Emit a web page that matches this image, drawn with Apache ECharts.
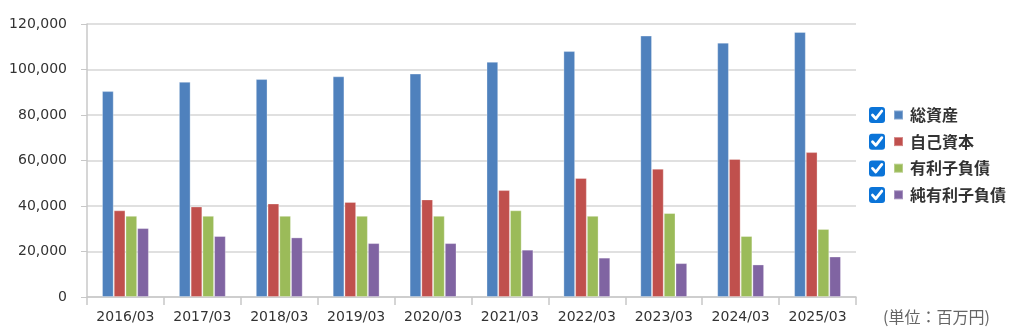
<!DOCTYPE html>
<html><head><meta charset="utf-8">
<script src="https://cdn.jsdelivr.net/npm/echarts@6/dist/echarts.min.js"></script>
<style>html,body{margin:0;padding:0;background:#fff}#c{width:1024px;height:330px}</style>
</head><body><div id="c"></div>
<script>
const categories = ['2016/03','2017/03','2018/03','2019/03','2020/03','2021/03','2022/03','2023/03','2024/03','2025/03'];
const seriesNames = ['総資産','自己資本','有利子負債','純有利子負債'];
const totalAssets = [90500, 94600, 95800, 97000, 98200, 103400, 108100, 114900, 111800, 116500];
const equity = [38100, 39800, 41100, 41800, 42900, 47000, 52300, 56400, 60700, 63700];
const interestDebt = [35700, 35700, 35700, 35700, 35700, 38100, 35700, 36900, 26800, 29900];
const netInterestDebt = [30300, 26800, 26200, 23700, 23700, 20800, 17300, 14900, 14300, 17800];
const colors = ['#4f81bd','#c0504d','#9bbb59','#8064a2'];
const yTicks = { min: 0, max: 120000, interval: 20000 };

const chart = echarts.init(document.getElementById('c'), null, {renderer:'canvas'});
const dataSets = [totalAssets, equity, interestDebt, netInterestDebt];
const legendTop = 107, legendStep = 26.7;
const checks = [];
seriesNames.forEach((n,i)=>{
  const cy = legendTop + 8 + i*legendStep;
  checks.push({type:'rect', shape:{x:869, y:cy-8, width:16, height:16, r:3}, style:{fill:'#0b74d8'}, z:10});
  checks.push({type:'polyline', shape:{points:[[872.5,cy],[875.8,cy+3.6],[881.8,cy-4]]}, style:{stroke:'#fff', lineWidth:2.8, fill:null, lineCap:'round', lineJoin:'round'}, z:11});
});
checks.push({type:'text', left:883, top:309, style:{text:'(単位：百万円)', fill:'#666', font:'16px "Noto Sans CJK JP"'}});

chart.setOption({
  animation:false,
  color: colors,
  grid:{left:87, right:168, top:24, bottom:33, containLabel:false},
  legend:{
    orient:'vertical', left:893, top:legendTop, padding:0, itemWidth:9, itemHeight:9, itemGap:10.6,
    icon:'rect', selectedMode:false,
    textStyle:{fontFamily:'"Noto Sans CJK JP"', fontWeight:'bold', fontSize:16, color:'#333', lineHeight:16, padding:[0,0,0,2]},
    data: seriesNames
  },
  xAxis:{
    type:'category', data:categories,
    axisLine:{lineStyle:{color:'#c8c8c8', width:1.5}},
    axisTick:{show:true, length:8, lineStyle:{color:'#c8c8c8', width:1.5}},
    axisLabel:{color:'#333', fontFamily:'"DejaVu Sans"', fontSize:14, margin:13}
  },
  yAxis:{
    type:'value', min:yTicks.min, max:yTicks.max, interval:yTicks.interval,
    axisLine:{show:true, lineStyle:{color:'#c8c8c8', width:1.5}},
    axisTick:{show:true, length:6, lineStyle:{color:'#c8c8c8'}},
    splitLine:{lineStyle:{color:'#d6d6d6', width:1.5}},
    axisLabel:{color:'#333', fontFamily:'"DejaVu Sans"', fontSize:14, margin:20,
      formatter:v=>v.toLocaleString('en-US')}
  },
  series: seriesNames.map((n,i)=>({
    name:n, type:'bar', data:dataSets[i], barGap:'0%', barCategoryGap:'39%',
    itemStyle:{color:colors[i], borderColor:'rgba(255,255,255,0.3)', borderWidth:1}
  })),
  graphic: checks
});
</script></body></html>
